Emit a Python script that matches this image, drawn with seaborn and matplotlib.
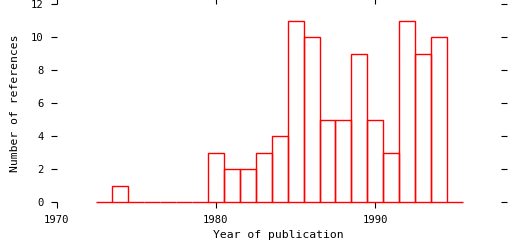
import matplotlib
matplotlib.use("Agg")
import matplotlib.pyplot as plt
import seaborn as sns
import pandas as pd

years = list(range(1973, 1996))
counts = [0, 1, 0, 0, 0, 0, 0, 3, 2, 2, 3, 4, 11, 10, 5, 5, 9, 5, 3, 11, 9, 10, 0]
x_ticks = [1970, 1980, 1990]
y_ticks = [0, 2, 4, 6, 8, 10, 12]

sns.set_style("ticks")
plt.rcParams['font.family'] = ['DejaVu Sans Mono']
plt.rcParams['text.color'] = 'black'
plt.rcParams['axes.labelcolor'] = 'black'
plt.rcParams['xtick.color'] = 'black'
plt.rcParams['ytick.color'] = 'black'

df = pd.DataFrame({"year": years, "count": counts})

fig = plt.figure(figsize=(5.12, 2.4), dpi=100)
ax = fig.add_axes([56.5 / 512, 38 / 240, 444 / 512, 198 / 240])

sns.histplot(data=df, x="year", weights="count", discrete=True, fill=False,
             element="bars", color="#ff0000", linewidth=1.0, ax=ax)
for p in ax.patches:
    p.set_clip_on(False)
    p.set_edgecolor("#ff0000")
    p.set_alpha(1)

ax.set_xlim(1970, 1997.85)
ax.set_ylim(0, 12)
ax.set_xticks(x_ticks)
ax.set_yticks(y_ticks)
for s in ax.spines.values():
    s.set_visible(False)
ax.tick_params(axis="both", direction="out", length=4.3, width=0.8, color="black",
               labelsize=7.6, pad=5, top=True, right=True,
               labeltop=False, labelright=False, labelcolor="black")
ax.set_xlabel("Year of publication", fontsize=8.2, labelpad=4, color="black")
ax.set_ylabel("Number of references", fontsize=8.2, labelpad=8, color="black")

fig.savefig("out.png", dpi=100)
